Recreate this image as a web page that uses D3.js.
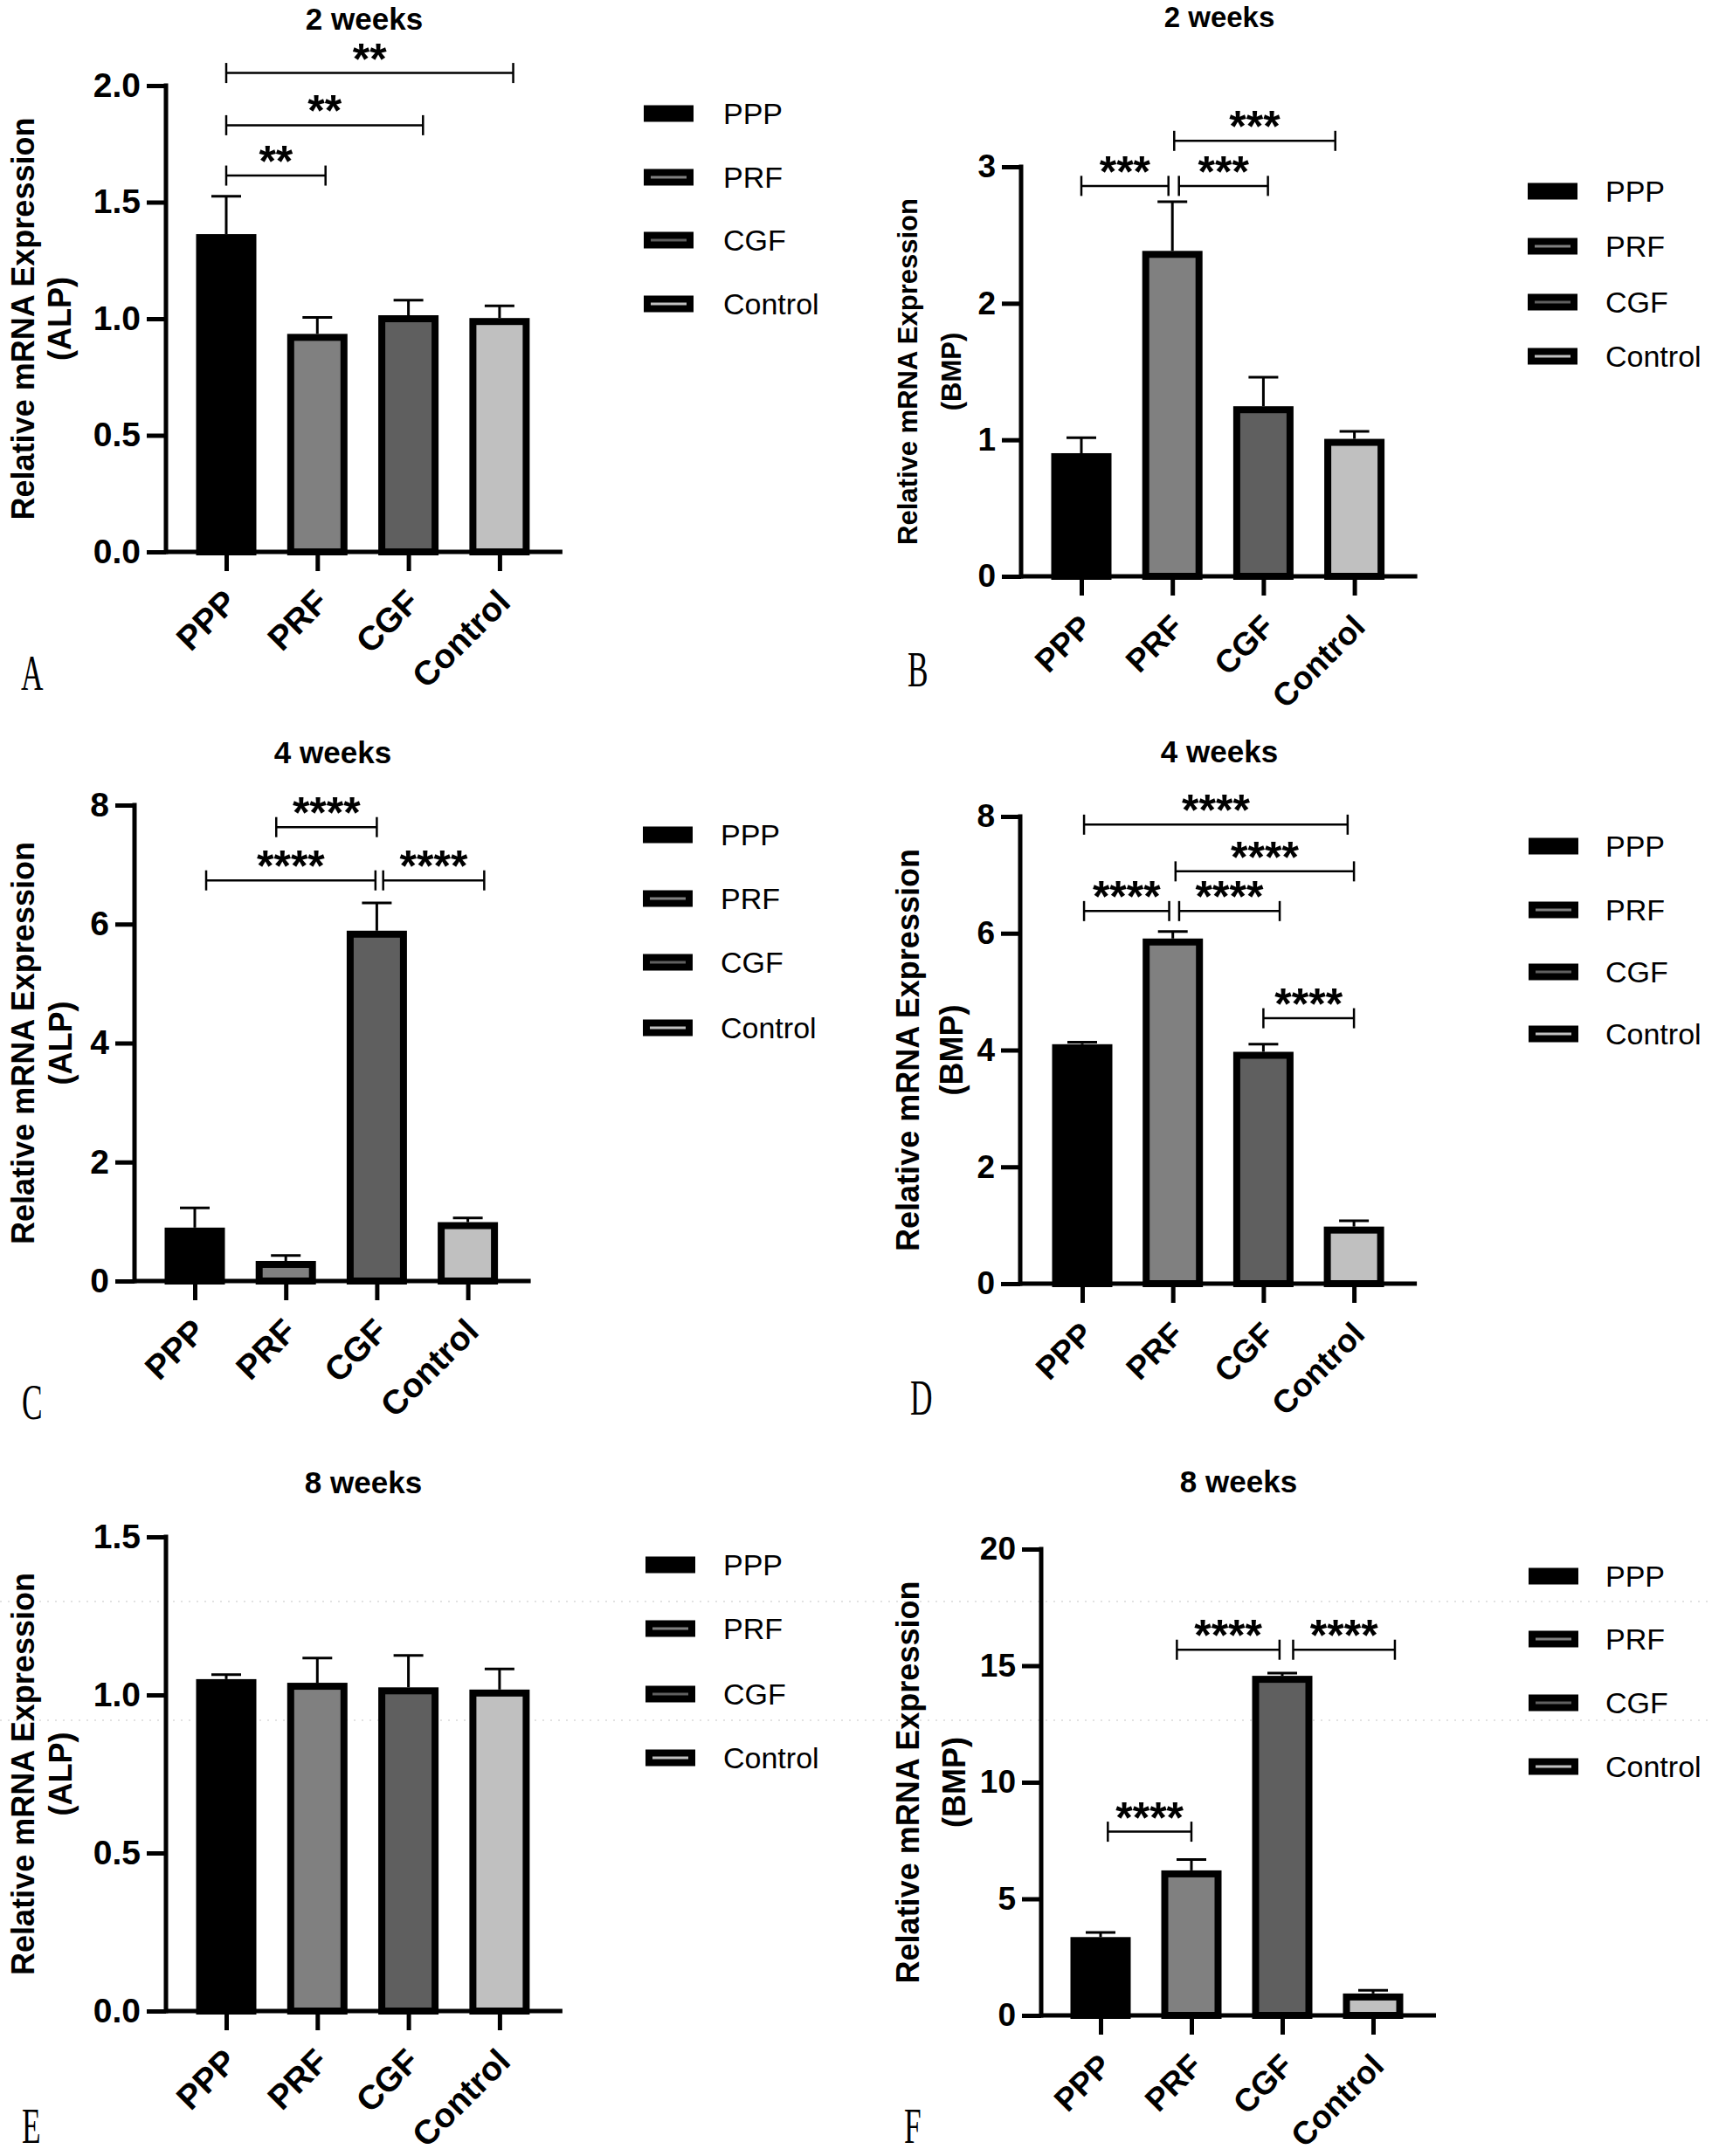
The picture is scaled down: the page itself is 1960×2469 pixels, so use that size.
<!DOCTYPE html>
<html><head><meta charset="utf-8">
<script src="https://cdn.jsdelivr.net/npm/d3@7"></script>
<style>
html,body{margin:0;padding:0;background:#fff;}
svg{display:block;}
</style></head><body>
<svg id="fig" width="1960" height="2469"></svg>
<script>
// ---------------- DATA ----------------
const categories = ["PPP", "PRF", "CGF", "Control"];
const panelLetters = ["A", "B", "C", "D", "E", "F"];
const panelTitles = ["2 weeks", "2 weeks", "4 weeks", "4 weeks", "8 weeks", "8 weeks"];
const yLabelMain = "Relative mRNA Expression";
const yLabelGenes = ["(ALP)", "(BMP)", "(ALP)", "(BMP)", "(ALP)", "(BMP)"];

// A: ALP, 2 weeks
const alp2wMeans = [1.363, 0.935, 1.015, 1.003];
const alp2wErrors = [0.162, 0.071, 0.065, 0.052];
const alp2wTicks = [0, 0.5, 1.0, 1.5, 2.0];
const alp2wTickLabels = ["0.0", "0.5", "1.0", "1.5", "2.0"];
const alp2wSig = [
  {from: 0, to: 3.15, y: 2.054, label: "**"},
  {from: 0, to: 2.16, y: 1.83, label: "**"},
  {from: 0, to: 1.09, y: 1.614, label: "**"}
];

// B: BMP, 2 weeks
const bmp2wMeans = [0.902, 2.384, 1.246, 1.007];
const bmp2wErrors = [0.114, 0.36, 0.213, 0.055];
const bmp2wTicks = [0, 1, 2, 3];
const bmp2wTickLabels = ["0", "1", "2", "3"];
const bmp2wSig = [
  {from: 0, to: 0.957, y: 2.86, label: "***"},
  {from: 1.072, to: 2.05, y: 2.86, label: "***"},
  {from: 1.02, to: 2.79, y: 3.19, label: "***"}
];

// C: ALP, 4 weeks
const alp4wMeans = [0.898, 0.338, 5.889, 0.99];
const alp4wErrors = [0.33, 0.092, 0.468, 0.07];
const alp4wTicks = [0, 2, 4, 6, 8];
const alp4wTickLabels = ["0", "2", "4", "6", "8"];
const alp4wSig = [
  {from: 0.895, to: 2.0, y: 7.63, label: "****"},
  {from: 0.125, to: 1.985, y: 6.735, label: "****"},
  {from: 2.07, to: 3.18, y: 6.735, label: "****"}
];

// D: BMP, 4 weeks
const bmp4wMeans = [4.10, 5.91, 3.97, 0.977];
const bmp4wErrors = [0.035, 0.12, 0.13, 0.10];
const bmp4wTicks = [0, 2, 4, 6, 8];
const bmp4wTickLabels = ["0", "2", "4", "6", "8"];
const bmp4wSig = [
  {from: 0.02, to: 2.93, y: 7.86, label: "****"},
  {from: 1.03, to: 3.0, y: 7.06, label: "****"},
  {from: 0.02, to: 0.96, y: 6.38, label: "****"},
  {from: 1.07, to: 2.18, y: 6.38, label: "****"},
  {from: 2.0, to: 3.0, y: 4.545, label: "****"}
];

// E: ALP, 8 weeks
const alp8wMeans = [1.050, 1.0385, 1.024, 1.017];
const alp8wErrors = [0.014, 0.078, 0.101, 0.065];
const alp8wTicks = [0, 0.5, 1.0, 1.5];
const alp8wTickLabels = ["0.0", "0.5", "1.0", "1.5"];
const alp8wSig = [];

// F: BMP, 8 weeks
const bmp8wMeans = [3.36, 6.22, 14.565, 0.94];
const bmp8wErrors = [0.20, 0.47, 0.115, 0.14];
const bmp8wTicks = [0, 5, 10, 15, 20];
const bmp8wTickLabels = ["0", "5", "10", "15", "20"];
const bmp8wSig = [
  {from: 0.84, to: 1.97, y: 15.685, label: "****"},
  {from: 2.12, to: 3.24, y: 15.685, label: "****"},
  {from: 0.08, to: 1.0, y: 7.88, label: "****"}
];

// ---------------- STYLE / LAYOUT ----------------
const seriesColors = ["#000000", "#808080", "#5f5f5f", "#c0c0c0"];
const FONT = "'Liberation Sans', Arial, Helvetica, sans-serif";
const SERIF = "'Liberation Serif', 'Times New Roman', serif";

const panelData = [
  {means: alp2wMeans, errors: alp2wErrors, ticks: alp2wTicks, tickLabels: alp2wTickLabels, sig: alp2wSig},
  {means: bmp2wMeans, errors: bmp2wErrors, ticks: bmp2wTicks, tickLabels: bmp2wTickLabels, sig: bmp2wSig},
  {means: alp4wMeans, errors: alp4wErrors, ticks: alp4wTicks, tickLabels: alp4wTickLabels, sig: alp4wSig},
  {means: bmp4wMeans, errors: bmp4wErrors, ticks: bmp4wTicks, tickLabels: bmp4wTickLabels, sig: bmp4wSig},
  {means: alp8wMeans, errors: alp8wErrors, ticks: alp8wTicks, tickLabels: alp8wTickLabels, sig: alp8wSig},
  {means: bmp8wMeans, errors: bmp8wErrors, ticks: bmp8wTicks, tickLabels: bmp8wTickLabels, sig: bmp8wSig}
];

const layouts = [
  {ax: 190, y0: 632, yTop: 98, cx0: 259, pitch: 104.3, titleX: 417, titleY: 34, titleFs: 35,
   ylx: [26, 68], ylfs: 36, tfs: 39, legX: 737, legTX: 828, legY: [130, 203, 275, 348],
   letX: 24, letY: 790},
  {ax: 1169, y0: 660, yTop: 191, cx0: 1238, pitch: 104.2, titleX: 1396, titleY: 31, titleFs: 33,
   ylx: [1039, 1089], ylfs: 31, tfs: 37, legX: 1749, legTX: 1838, legY: [219, 282, 346, 408],
   letX: 1039, letY: 786},
  {ax: 154, y0: 1467, yTop: 922, cx0: 223, pitch: 104.2, titleX: 381, titleY: 874, titleFs: 35,
   ylx: [26, 69], ylfs: 36, tfs: 39, legX: 736, legTX: 825, legY: [956, 1029, 1102, 1177],
   letX: 25, letY: 1625},
  {ax: 1168, y0: 1470, yTop: 935, cx0: 1239, pitch: 103.7, titleX: 1396, titleY: 873, titleFs: 35,
   ylx: [1039, 1089], ylfs: 36, tfs: 37, legX: 1750, legTX: 1838, legY: [969, 1042, 1113, 1184],
   letX: 1042, letY: 1620},
  {ax: 190, y0: 2303, yTop: 1760, cx0: 259, pitch: 104.3, titleX: 416, titleY: 1710, titleFs: 35,
   ylx: [26, 69], ylfs: 36, tfs: 39, legX: 739, legTX: 828, legY: [1792, 1865, 1940, 2013],
   letX: 25, letY: 2454},
  {ax: 1192, y0: 2308, yTop: 1774, cx0: 1260, pitch: 104.0, titleX: 1418, titleY: 1709, titleFs: 35,
   ylx: [1039, 1092], ylfs: 36, tfs: 37, legX: 1750, legTX: 1838, legY: [1805, 1877, 1950, 2023],
   letX: 1035, letY: 2454}
];

const svg = d3.select("#fig");
svg.append("rect").attr("width", 1960).attr("height", 2469).attr("fill", "#fff");

// faint scan artefact lines across the bottom row
const artefactY = [1834, 1970];
svg.selectAll("line.artefact").data(artefactY).join("line")
  .attr("class", "artefact")
  .attr("x1", 0).attr("x2", 1960)
  .attr("y1", d => d).attr("y2", d => d)
  .attr("stroke", "#cfcfcf").attr("stroke-width", 1.5)
  .attr("stroke-dasharray", "2,7").attr("opacity", 0.8);

const BAR_W = 69, BAR_SW = 8, AX_SW = 5, TICK = 22, CAP = 34;

function drawPanel(k) {
  const d = panelData[k], L = layouts[k];
  const g = svg.append("g");
  const yMax = d.ticks[d.ticks.length - 1];
  const y = d3.scaleLinear().domain([0, yMax]).range([L.y0, L.yTop]);
  const xEndCenter = L.cx0 + 3 * L.pitch;
  const xp = d3.scalePoint().domain(categories).range([L.cx0, xEndCenter]);
  const xi = d3.scaleLinear().domain([0, categories.length - 1]).range([L.cx0, xEndCenter]);
  const axisEnd = xEndCenter + 72;

  // bars
  g.selectAll("rect.bar").data(d.means).join("rect")
    .attr("class", "bar")
    .attr("x", (v, i) => xp(categories[i]) - BAR_W / 2 + BAR_SW / 2)
    .attr("y", v => y(v) + BAR_SW / 2)
    .attr("width", BAR_W - BAR_SW)
    .attr("height", v => L.y0 - y(v) - BAR_SW / 2)
    .attr("fill", (v, i) => seriesColors[i])
    .attr("stroke", "#000").attr("stroke-width", BAR_SW);

  // error bars (upper only)
  const eb = g.selectAll("g.err").data(d.means.map((m, i) => ({m, e: d.errors[i], c: categories[i]}))).join("g");
  eb.append("line")
    .attr("x1", o => xp(o.c)).attr("x2", o => xp(o.c))
    .attr("y1", o => y(o.m)).attr("y2", o => y(o.m + o.e))
    .attr("stroke", "#000").attr("stroke-width", 3);
  eb.append("line")
    .attr("x1", o => xp(o.c) - CAP / 2).attr("x2", o => xp(o.c) + CAP / 2)
    .attr("y1", o => y(o.m + o.e)).attr("y2", o => y(o.m + o.e))
    .attr("stroke", "#000").attr("stroke-width", 3);

  // y axis
  const yAxis = d3.axisLeft(y).tickValues(d.ticks)
    .tickFormat((t, i) => d.tickLabels[i]).tickSize(TICK).tickSizeOuter(0).tickPadding(7);
  const ya = g.append("g").attr("transform", `translate(${L.ax},0)`).call(yAxis);
  ya.select(".domain").remove();
  ya.selectAll(".tick line").attr("stroke", "#000").attr("stroke-width", AX_SW);
  ya.selectAll(".tick text").attr("fill", "#000")
    .style("font-family", FONT).style("font-weight", "bold").style("font-size", L.tfs + "px");
  g.append("line").attr("x1", L.ax).attr("x2", L.ax)
    .attr("y1", y(yMax) - AX_SW / 2).attr("y2", L.y0 + AX_SW / 2)
    .attr("stroke", "#000").attr("stroke-width", AX_SW);

  // x axis
  const xAxis = d3.axisBottom(xp).tickSize(TICK).tickSizeOuter(0);
  const xa = g.append("g").attr("transform", `translate(0,${L.y0})`).call(xAxis);
  xa.select(".domain").remove();
  xa.selectAll(".tick line").attr("stroke", "#000").attr("stroke-width", AX_SW);
  xa.selectAll(".tick text")
    .attr("x", null).attr("y", null).attr("dy", null)
    .attr("transform", "translate(14,60) rotate(-45)")
    .attr("text-anchor", "end").attr("fill", "#000")
    .style("font-family", FONT).style("font-weight", "bold").style("font-size", L.tfs + "px");
  g.append("line").attr("x1", L.ax).attr("x2", axisEnd)
    .attr("y1", L.y0).attr("y2", L.y0)
    .attr("stroke", "#000").attr("stroke-width", AX_SW);

  // significance brackets
  const sg = g.selectAll("g.sig").data(d.sig).join("g");
  sg.append("line")
    .attr("x1", s => xi(s.from)).attr("x2", s => xi(s.to))
    .attr("y1", s => y(s.y)).attr("y2", s => y(s.y))
    .attr("stroke", "#000").attr("stroke-width", 2.5);
  sg.append("line")
    .attr("x1", s => xi(s.from)).attr("x2", s => xi(s.from))
    .attr("y1", s => y(s.y) - 11.5).attr("y2", s => y(s.y) + 11.5)
    .attr("stroke", "#000").attr("stroke-width", 2.5);
  sg.append("line")
    .attr("x1", s => xi(s.to)).attr("x2", s => xi(s.to))
    .attr("y1", s => y(s.y) - 11.5).attr("y2", s => y(s.y) + 11.5)
    .attr("stroke", "#000").attr("stroke-width", 2.5);
  sg.append("text")
    .attr("x", s => (xi(s.from) + xi(s.to)) / 2)
    .attr("y", s => y(s.y) + 1)
    .attr("text-anchor", "middle")
    .style("font-family", FONT).style("font-weight", "bold").style("font-size", "50px")
    .text(s => s.label);

  // title
  g.append("text").attr("x", L.titleX).attr("y", L.titleY)
    .attr("text-anchor", "middle")
    .style("font-family", FONT).style("font-weight", "bold").style("font-size", L.titleFs + "px")
    .text(panelTitles[k]);

  // y label
  const cy = (L.y0 + y(yMax)) / 2;
  [yLabelMain, yLabelGenes[k]].forEach((t, j) => {
    g.append("text")
      .attr("transform", `translate(${L.ylx[j]},${cy}) rotate(-90)`)
      .attr("text-anchor", "middle").attr("dominant-baseline", "central")
      .style("font-family", FONT).style("font-weight", "bold").style("font-size", L.ylfs + "px")
      .text(t);
  });

  // legend
  const lg = g.selectAll("g.leg").data(categories).join("g")
    .attr("transform", (c, i) => `translate(0,${L.legY[i]})`);
  lg.append("rect")
    .attr("x", L.legX + 4).attr("y", -9.5 + 4)
    .attr("width", 57 - 8).attr("height", 19 - 8)
    .attr("fill", (c, i) => seriesColors[i])
    .attr("stroke", "#000").attr("stroke-width", 8);
  lg.append("text")
    .attr("x", L.legTX).attr("y", 0)
    .attr("dominant-baseline", "central")
    .style("font-family", FONT).style("font-size", "34px")
    .text(c => c);

  // panel letter
  g.append("text")
    .attr("transform", `translate(${L.letX},${L.letY}) scale(0.62,1)`)
    .style("font-family", SERIF).style("font-size", "57px")
    .text(panelLetters[k]);
}

for (let k = 0; k < 6; k++) drawPanel(k);
</script>
</body></html>
